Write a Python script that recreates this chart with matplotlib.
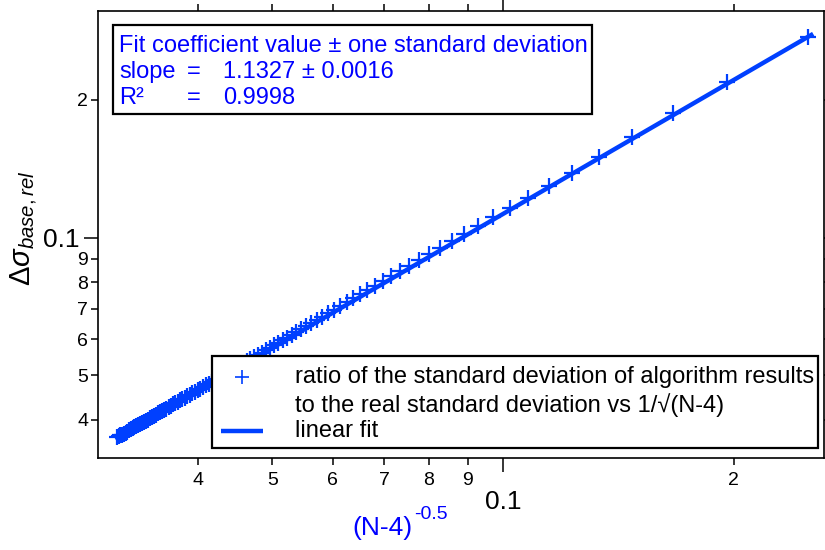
import numpy as np
import matplotlib
matplotlib.use("Agg")
import matplotlib.pyplot as plt
from matplotlib.ticker import FixedLocator, FixedFormatter
from matplotlib.patches import Rectangle

plt.rcParams['font.family'] = ['Liberation Sans', 'DejaVu Sans']
plt.rcParams['mathtext.fontset'] = 'custom'
plt.rcParams['mathtext.rm'] = 'Liberation Sans'
plt.rcParams['mathtext.it'] = 'Liberation Sans:italic'
plt.rcParams['axes.unicode_minus'] = False

# number of samples minus fitted parameters (N-4)
n_minus_4 = [16, 26, 36, 46, 56, 66, 76, 86, 96, 106,
             116, 126, 136, 146, 156, 166, 176, 186, 196, 206,
             216, 226, 236, 246, 256, 266, 276, 286, 296, 306,
             316, 326, 336, 346, 356, 366, 376, 386, 396, 406,
             416, 426, 436, 446, 456, 466, 476, 486, 496, 506,
             516, 526, 536, 546, 556, 566, 576, 586, 596, 606,
             616, 626, 636, 646, 656, 666, 676, 686, 696, 706,
             716, 726, 736, 746, 756, 766, 776, 786, 796, 806,
             816, 826, 836, 846, 856, 866, 876, 886, 896, 906,
             916, 926, 936, 946, 956, 966, 976, 986, 996, 1006,
             1016]

# ratio of std of algorithm results to the real std
ratio = [0.2743, 0.2185, 0.1872, 0.1657, 0.1498, 0.1386, 0.1297, 0.1222, 0.1162, 0.1108,
         0.1062, 0.1019, 0.0984, 0.0950, 0.0921, 0.0893, 0.0868, 0.0845, 0.0824, 0.0804,
         0.0786, 0.0768, 0.0752, 0.0737, 0.0722, 0.0709, 0.0696, 0.0684, 0.0672, 0.0661,
         0.0651, 0.0641, 0.0631, 0.0622, 0.0613, 0.0605, 0.0597, 0.0589, 0.0582, 0.0575,
         0.0568, 0.0561, 0.0555, 0.0549, 0.0543, 0.0537, 0.0531, 0.0526, 0.0521, 0.0516,
         0.0511, 0.0506, 0.0501, 0.0497, 0.0492, 0.0488, 0.0484, 0.0480, 0.0476, 0.0472,
         0.0468, 0.0464, 0.0461, 0.0457, 0.0454, 0.0450, 0.0447, 0.0444, 0.0441, 0.0438,
         0.0435, 0.0432, 0.0429, 0.0426, 0.0423, 0.0420, 0.0418, 0.0415, 0.0413, 0.0410,
         0.0408, 0.0405, 0.0403, 0.0400, 0.0398, 0.0396, 0.0394, 0.0392, 0.0389, 0.0387,
         0.0385, 0.0383, 0.0381, 0.0379, 0.0377, 0.0375, 0.0373, 0.0371, 0.0370, 0.0368,
         0.0366]

# fit line end points
fit_x = [0.0312, 0.254]
fit_y = [0.0363, 0.2790]

slope, slope_err = 1.1327, 0.0016
r_squared = 0.9998

x_minor = [0.04, 0.05, 0.06, 0.07, 0.08, 0.09, 0.2]
x_minor_labels = ['4', '5', '6', '7', '8', '9', '2']
y_minor = [0.04, 0.05, 0.06, 0.07, 0.08, 0.09, 0.2]
y_minor_labels = ['4', '5', '6', '7', '8', '9', '2']

data_color = '#0040ff'
text_blue = '#0000ff'

x = 1.0 / np.sqrt(np.array(n_minus_4, dtype=float))

fig = plt.figure(figsize=(8.25, 5.5), dpi=100)
ax = fig.add_axes([98 / 825, 92 / 550, 726 / 825, 447 / 550])

ax.plot(x, ratio, linestyle='none', marker='+', markersize=12, markeredgewidth=1.6,
        color=data_color, zorder=3)
ax.plot(fit_x, fit_y, color=data_color, lw=3.2, zorder=4, solid_capstyle='butt')

ax.set_xscale('log')
ax.set_yscale('log')
ax.set_xlim(0.02962, 0.2624)
ax.set_ylim(0.0330, 0.313)

ax.xaxis.set_major_locator(FixedLocator([0.1]))
ax.xaxis.set_major_formatter(FixedFormatter(['0.1']))
ax.xaxis.set_minor_locator(FixedLocator(x_minor))
ax.xaxis.set_minor_formatter(FixedFormatter(x_minor_labels))
ax.yaxis.set_major_locator(FixedLocator([0.1]))
ax.yaxis.set_major_formatter(FixedFormatter(['0.1']))
ax.yaxis.set_minor_locator(FixedLocator(y_minor))
ax.yaxis.set_minor_formatter(FixedFormatter(y_minor_labels))

ax.tick_params(which='both', direction='out', top=True, right=True, width=1.1)
ax.tick_params(which='major', length=10)
ax.tick_params(which='minor', length=5)
ax.tick_params(axis='x', which='major', labelsize=19, pad=13)
ax.tick_params(axis='x', which='minor', labelsize=14, pad=5)
ax.tick_params(axis='y', which='major', labelsize=19, pad=3)
ax.tick_params(axis='y', which='minor', labelsize=14, pad=2)
for s in ax.spines.values():
    s.set_linewidth(1.2)

# fit results box
ax.add_patch(Rectangle((0.0207, 0.7696), 0.6597, 0.1991, transform=ax.transAxes,
                       facecolor='white', edgecolor='black', lw=1.6, zorder=6))
ax.text(0.0289, 0.9083, 'Fit coefficient value \u00b1 one standard deviation',
        transform=ax.transAxes, color=text_blue, fontsize=17, va='baseline', zorder=7)
ax.text(0.0289, 0.8501, 'slope', transform=ax.transAxes, color=text_blue,
        fontsize=17, va='baseline', zorder=7)
ax.text(0.1226, 0.8501, '=', transform=ax.transAxes, color=text_blue,
        fontsize=17, va='baseline', zorder=7)
ax.text(0.1722, 0.8501, f'{slope:.4f} \u00b1 {slope_err:.4f}', transform=ax.transAxes,
        color=text_blue, fontsize=17, va='baseline', zorder=7)
ax.text(0.0289, 0.7919, 'R\u00b2', transform=ax.transAxes, color=text_blue,
        fontsize=17, va='baseline', zorder=7)
ax.text(0.1226, 0.7919, '=', transform=ax.transAxes, color=text_blue,
        fontsize=17, va='baseline', zorder=7)
ax.text(0.1722, 0.7919, f'{r_squared:.4f}', transform=ax.transAxes, color=text_blue,
        fontsize=17, va='baseline', zorder=7)

# legend box
ax.add_patch(Rectangle((0.157, 0.0224), 0.8347, 0.2058, transform=ax.transAxes,
                       facecolor='white', edgecolor='black', lw=1.6, zorder=6))
ax.plot([0.1983], [0.1812], transform=ax.transAxes, marker='+', markersize=10,
        markeredgewidth=1.2, color=data_color, linestyle='none', zorder=7, clip_on=False)
ax.plot([0.1694, 0.2273], [0.0604, 0.0604], transform=ax.transAxes, color=data_color,
        lw=3.2, zorder=7, clip_on=False, solid_capstyle='butt')
ax.text(0.2713, 0.1678, 'ratio of the standard deviation of algorithm results',
        transform=ax.transAxes, fontsize=17, va='baseline', zorder=7)
ax.text(0.2713, 0.1029, 'to the real standard deviation vs 1/\u221a(N-4)',
        transform=ax.transAxes, fontsize=17, va='baseline', zorder=7)
ax.text(0.2713, 0.0470, 'linear fit', transform=ax.transAxes, fontsize=17,
        va='baseline', zorder=7)

# x axis title with raised exponent
fig.text(352 / 825, 15 / 550, '(N-4)', color=text_blue, fontsize=19,
         ha='left', va='baseline')
fig.text(414 / 825, 31 / 550, '-0.5', color=text_blue, fontsize=14,
         ha='left', va='baseline')
fig.text(24 / 825, 0.585, '$\\mathit{\\Delta\\sigma_{base,rel}}$', fontsize=21,
         rotation=90, ha='center', va='center')

fig.savefig('out.png', dpi=100)
